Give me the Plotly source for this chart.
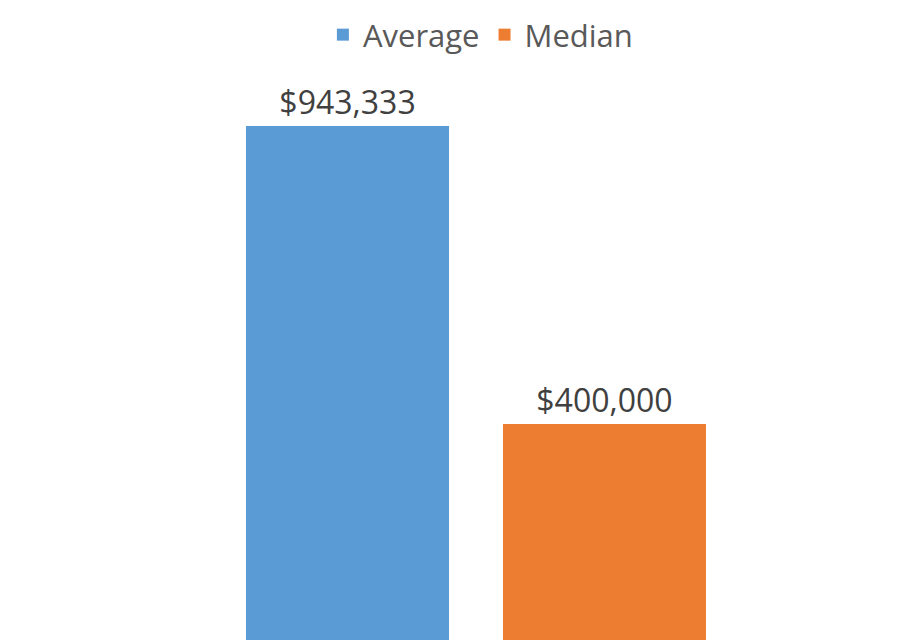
import plotly.graph_objects as go

# Average vs median (values from the chart labels)
series = ['Average', 'Median']
values = [943333, 400000]
labels = ['$943,333', '$400,000']
colors = ['#5B9BD5', '#ED7D31']

FONT = 'Open Sans'

fig = go.Figure()
for name, val, lab, col in zip(series, values, labels, colors):
    fig.add_trace(go.Bar(
        x=['Amount'], y=[val], name=name,
        marker_color=col, marker_line_width=0,
        text=[lab], textposition='outside', cliponaxis=False,
        textfont=dict(family=FONT, size=32, color='#404040'),
    ))

fig.update_layout(
    width=920, height=640,
    margin=dict(l=28, r=12, t=52, b=0, autoexpand=False),
    barmode='group', bargap=0.416, bargroupgap=0.21,
    plot_bgcolor='white', paper_bgcolor='white',
    showlegend=True,
    legend=dict(orientation='h', x=0.505, xanchor='center',
                yref='container', y=1.0, yanchor='top',
                font=dict(family=FONT, size=31, color='#595959')),
    font=dict(family=FONT),
)
fig.update_xaxes(visible=False)
fig.update_yaxes(visible=False, range=[-8400, 1063660])

fig.write_html("out.html")
